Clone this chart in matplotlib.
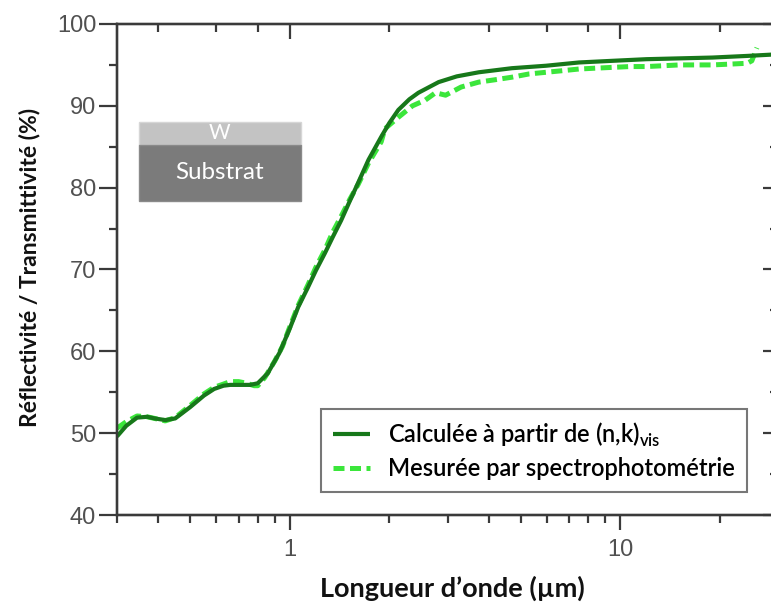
import matplotlib
matplotlib.use("Agg")
import matplotlib.pyplot as plt
from matplotlib.patches import Rectangle
from matplotlib.ticker import LogLocator, NullFormatter, FixedLocator, FixedFormatter


calc_x = [0.30, 0.32, 0.345, 0.37, 0.39, 0.42, 0.45, 0.50, 0.55, 0.59, 0.63, 0.66,
          0.71, 0.76, 0.80, 0.857, 0.93, 1.00, 1.06, 1.134, 1.20, 1.277, 1.35,
          1.43, 1.52, 1.61, 1.73, 1.89, 2.00, 2.13, 2.30, 2.45, 2.82, 3.20, 3.73,
          4.70, 5.96, 7.50, 9.46, 12.0, 15.1, 19.0, 24.2, 30.0]
calc_y = [49.6, 50.9, 51.9, 52.0, 51.8, 51.6, 51.8, 53.2, 54.6, 55.4, 55.8, 55.9,
          55.9, 55.9, 56.1, 57.3, 59.8, 62.8, 65.4, 67.8, 69.9, 72.0, 74.0,
          76.0, 78.4, 80.6, 83.4, 86.2, 87.9, 89.5, 90.8, 91.6, 92.9, 93.6, 94.1,
          94.6, 94.9, 95.3, 95.5, 95.7, 95.8, 95.9, 96.1, 96.3]

meas_x = [0.30, 0.32, 0.345, 0.37, 0.39, 0.42, 0.45, 0.50, 0.55, 0.59, 0.63, 0.66,
          0.70, 0.74, 0.78, 0.80, 0.84, 0.90, 0.95, 1.00, 1.06, 1.134, 1.20,
          1.277, 1.35, 1.43, 1.52, 1.61, 1.73, 1.89, 1.94, 2.13, 2.35, 2.57,
          2.76, 2.96, 3.30, 3.73, 4.20, 4.70, 5.30, 5.96, 6.70, 7.50, 8.40, 9.46,
          10.7, 12.0, 13.5, 15.1, 17.0, 19.0, 21.5, 24.2, 25.0, 25.9]
meas_y = [50.6, 51.4, 52.1, 52.0, 51.8, 51.5, 51.9, 53.4, 54.8, 55.6, 56.0, 56.3,
          56.3, 56.1, 55.8, 55.8, 56.8, 58.8, 60.6, 63.0, 65.6, 68.1, 70.3,
          72.4, 74.6, 76.5, 78.6, 80.4, 83.0, 85.6, 87.2, 88.6, 90.0, 90.7,
          91.6, 91.3, 92.3, 92.9, 93.2, 93.5, 93.9, 94.1, 94.3, 94.5, 94.6, 94.7,
          94.8, 94.8, 94.9, 95.0, 95.0, 95.0, 95.1, 95.2, 95.5, 97.1]

calc_label = r"Calculée à partir de (n,k)$_{\mathregular{vis}}$"
meas_label = "Mesurée par spectrophotométrie"

xlim = (0.3, 30)
ylim = (40, 100)
y_major = [40, 50, 60, 70, 80, 90, 100]
y_minor = [45, 55, 65, 75, 85, 95]

SPINE = "#3a3a3a"
TICKLAB = "#505050"
CALIBRI = ["Lato", "DejaVu Sans"]


def main():
    fig = plt.figure(figsize=(7.71, 6.03), dpi=100)
    ax = fig.add_axes([117 / 771, 1 - 515 / 603, 661 / 771, 491 / 603])

    ax.plot(calc_x, calc_y, color="#17781a", lw=3.0, label=calc_label, zorder=3,
            solid_capstyle="butt")
    ax.plot(meas_x, meas_y, color="#3be63b", lw=3.6, ls=(0, (2.2, 1.1)),
            label=meas_label, zorder=2)

    ax.set_xscale("log")
    ax.set_xlim(*xlim)
    ax.set_ylim(*ylim)

    ax.xaxis.set_major_locator(FixedLocator([1, 10]))
    ax.xaxis.set_major_formatter(FixedFormatter(["1", "10"]))
    ax.xaxis.set_minor_locator(LogLocator(base=10, subs=range(2, 10)))
    ax.xaxis.set_minor_formatter(NullFormatter())
    ax.yaxis.set_major_locator(FixedLocator(y_major))
    ax.yaxis.set_minor_locator(FixedLocator(y_minor))

    ax.tick_params(axis="x", which="major", direction="out", length=11, width=1.6,
                   color=SPINE, labelsize=17, labelcolor=TICKLAB, pad=6)
    ax.tick_params(axis="y", which="major", direction="out", length=13, width=1.6,
                   color=SPINE, labelsize=17, labelcolor=TICKLAB, pad=2)
    ax.tick_params(which="minor", direction="out", length=5.5, width=1.6,
                   color=SPINE)
    for lab in ax.get_xticklabels() + ax.get_yticklabels():
        lab.set_fontfamily("Liberation Sans")

    # top and right ticks point inward, without labels
    top = ax.twiny()
    top.set_xscale("log")
    top.set_xlim(*xlim)
    top.xaxis.set_major_locator(FixedLocator([1, 10]))
    top.xaxis.set_minor_locator(LogLocator(base=10, subs=[2, 4, 6, 8]))
    top.xaxis.set_major_formatter(NullFormatter())
    top.xaxis.set_minor_formatter(NullFormatter())
    top.tick_params(which="major", direction="in", length=11, width=1.6, color=SPINE)
    top.tick_params(which="minor", direction="in", length=5.5, width=1.6, color=SPINE)

    right = ax.twinx()
    right.set_ylim(*ylim)
    right.yaxis.set_major_locator(FixedLocator(y_major))
    right.yaxis.set_minor_locator(FixedLocator(y_minor))
    right.yaxis.set_major_formatter(NullFormatter())
    right.tick_params(which="major", direction="in", length=11, width=1.6, color=SPINE)
    right.tick_params(which="minor", direction="in", length=5.5, width=1.6, color=SPINE)

    for a in (ax, top, right):
        for sp in a.spines.values():
            sp.set_color(SPINE)
            sp.set_linewidth(1.6)

    ax.set_xlabel("Longueur d\u2019onde (µm)", fontsize=19.5, fontweight="bold",
                  family=CALIBRI, color="#111111", va="center")
    ax.xaxis.set_label_coords(0.508, -0.149)
    ax.set_ylabel("Réflectivité / Transmittivité (%)", fontsize=16.5,
                  fontweight="bold", family=CALIBRI, color="#111111", va="center")
    ax.yaxis.set_label_coords(-0.132, 0.505)

    leg = right.legend(*ax.get_legend_handles_labels(), loc="lower left",
                       bbox_to_anchor=(0.309, 0.047),
                       prop={"family": CALIBRI, "size": 17, "weight": "semibold"},
                       frameon=True, fancybox=False, edgecolor="#555555",
                       handlelength=1.57, handletextpad=0.76, borderpad=0.5,
                       labelspacing=0.35, borderaxespad=0)
    leg.get_frame().set_linewidth(1.5)

    # layer sketch
    ax.add_patch(Rectangle((0.0333, 0.7536), 0.245, 0.0468, transform=ax.transAxes,
                           facecolor="#c3c3c3", edgecolor="#d6d6d6", lw=1, zorder=4))
    ax.add_patch(Rectangle((0.0333, 0.6395), 0.245, 0.1141, transform=ax.transAxes,
                           facecolor="#7b7b7b", edgecolor="#8a8a8a", lw=1, zorder=4))
    ax.text(0.0333 + 0.1225, 0.777, "W", transform=ax.transAxes, ha="center",
            va="center", color="white", fontsize=15, family=CALIBRI, zorder=5)
    ax.text(0.0333 + 0.1225, 0.697, "Substrat", transform=ax.transAxes,
            ha="center", va="center", color="white", fontsize=17.4, family=CALIBRI,
            zorder=5)

    fig.savefig("out.png", dpi=100)
    plt.close(fig)


if __name__ == "__main__":
    main()
